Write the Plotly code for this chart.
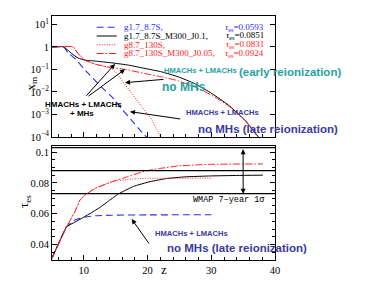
import plotly.graph_objects as go

# ---------------- data ----------------
# top panel: x_m vs z
z_blue_top = [5, 6.8, 7.5, 8.6, 10.7, 12.8, 14.4, 15.9, 17.5, 19.1, 20.0]
xm_blue = [1, 1, 0.56, 0.30, 0.066, 0.0158, 0.0060, 0.00182, 0.00055, 0.000166, 0.000089]

z_black_top = [5, 6.8, 7.5, 8.1, 9.1, 10.2, 11.8, 14.4, 17.0, 19.6, 22.2, 24.8, 27.4, 30.1, 32.7, 35.3, 37.4]
xm_black = [1, 1, 0.71, 0.50, 0.32, 0.257, 0.234, 0.195, 0.155, 0.110, 0.078, 0.047, 0.0234, 0.0085, 0.0026, 0.00055, 0.0001]

z_reddd_top = [5, 8.3, 9.1, 10.2, 11.8, 14.4, 16.5, 19.6, 22.2, 24.8, 27.4, 30.1, 32.7, 35.3, 37.3]
xm_reddd = [1, 1, 0.50, 0.257, 0.170, 0.120, 0.100, 0.065, 0.047, 0.031, 0.0166, 0.0071, 0.0024, 0.00055, 0.0001]

z_redot_top = [5, 8.3, 9.1, 10.2, 11.8, 14.0, 15.0, 15.9, 17.5, 19.1, 20.7, 22.0]
xm_redot = [1, 1, 0.50, 0.257, 0.170, 0.120, 0.076, 0.035, 0.0089, 0.0022, 0.00056, 0.0001]

# bottom panel: tau_es vs z
z_blue_bot = [5, 7.3, 8.6, 10.2, 11.8, 14.4, 20, 30]
tau_blue = [0.031, 0.0515, 0.0559, 0.0578, 0.0586, 0.0590, 0.0592, 0.0593]

z_black_bot = [5, 7.3, 8.6, 9.9, 11.2, 12.5, 14.0, 15.4, 17.8, 20.4, 23.0, 25.9, 30.0, 34.0, 38.1]
tau_black = [0.031, 0.0515, 0.0545, 0.0575, 0.0607, 0.0640, 0.0686, 0.0728, 0.0778, 0.0809, 0.0829, 0.0840, 0.0846, 0.0849, 0.0851]

z_redot_bot = [5, 7.3, 8.6, 9.4, 10.2, 11.8, 14.4, 17.0, 19.6, 30.1]
tau_redot = [0.031, 0.0515, 0.0613, 0.0689, 0.0722, 0.0765, 0.0808, 0.0824, 0.0830, 0.0831]

z_reddd_bot = [5, 7.3, 8.6, 9.4, 10.2, 11.8, 14.4, 17.0, 19.6, 22.2, 24.8, 27.4, 30.1, 38.1]
tau_reddd = [0.031, 0.0515, 0.0613, 0.0689, 0.0722, 0.0765, 0.0808, 0.0843, 0.0878, 0.0896, 0.0911, 0.0917, 0.0922, 0.0924]

tau_wmap = 0.088
tau_sigma = 0.015

series_names = ["g1.7_8.7S,", "g1.7_8.7S_M300_J0.1,", "g8.7_130S,", "g8.7_130S_M300_J0.05,"]
series_tau = ["0.0593", "0.0851", "0.0831", "0.0924"]

top_ticks = [10, 1, 0.1, 0.01, 0.001, 0.0001]
top_ticktext = ["10<sup>1</sup>", "1", "10<sup>\u22121</sup>", "10<sup>\u22122</sup>", "10<sup>\u22123</sup>", "10<sup>\u22124</sup>"]
bot_ticks = [0.04, 0.06, 0.08, 0.1]
bot_ticktext = ["0.04", "0.06", "0.08", "0.1"]
x_ticks = [10, 20, 30, 40]

# ---------------- styles ----------------
BLUE = "#2a2aff"
RED = "#ff1a1a"
BLACK = "#000000"
TEAL = "#1fa3a0"
NAVY = "#3a3aa0"
SERIF = "Liberation Serif"
SANS = "Liberation Sans"

# page offset (body margin) compensation
OFF = 8
L, T = 52 - OFF, 16 - OFF
PW, PH = 223, 244
W, H = 369, 291
R = W - L - PW
B = H - T - PH

def px(xp):   # picture x pixel -> paper x
    return (xp - OFF - L) / PW

def py(yp):   # picture y pixel -> paper y
    return (T + PH - (yp - OFF)) / PH

styles = [
    dict(color=BLUE, width=1.1, dash="7px,4px"),
    dict(color=BLACK, width=1.0, dash="solid"),
    dict(color=RED, width=1.0, dash="1px,1.5px"),
    dict(color=RED, width=1.0, dash="7px,2px,1.5px,2px"),
]

fig = go.Figure()

top_sets = [(z_blue_top, xm_blue), (z_black_top, xm_black), (z_redot_top, xm_redot), (z_reddd_top, xm_reddd)]
bot_sets = [(z_blue_bot, tau_blue), (z_black_bot, tau_black), (z_redot_bot, tau_redot), (z_reddd_bot, tau_reddd)]

for (zz, vv), st in zip(top_sets, styles):
    fig.add_trace(go.Scatter(x=zz, y=vv, mode="lines", line=st, xaxis="x", yaxis="y",
                             showlegend=False, line_shape="spline", line_smoothing=0.4))
for (zz, vv), st in zip(bot_sets, styles):
    fig.add_trace(go.Scatter(x=zz, y=vv, mode="lines", line=st, xaxis="x2", yaxis="y2",
                             showlegend=False, line_shape="spline", line_smoothing=0.3))

# WMAP band lines
for v in [tau_wmap - tau_sigma, tau_wmap, tau_wmap + tau_sigma]:
    fig.add_shape(type="line", xref="x2 domain", yref="y2", x0=0, x1=1, y0=v, y1=v,
                  line=dict(color=BLACK, width=1.3))

axis_common = dict(showline=True, linecolor=BLACK, linewidth=1, showgrid=False, zeroline=False,
                   ticks="inside", tickcolor=BLACK, ticklen=5, automargin=False,
                   tickfont=dict(family=SERIF, size=10.5, color=BLACK))

fig.update_layout(
    template="none",
    width=W, height=H,
    margin=dict(l=L, r=R, t=T, b=B, pad=0, autoexpand=False),
    paper_bgcolor="white", plot_bgcolor="white",
    showlegend=False,
    xaxis=dict(axis_common, domain=[0, 1], range=[5, 40], anchor="y", showticklabels=False,
               tickvals=x_ticks, mirror=True,
               minor=dict(dtick=2, tick0=0, ticks="inside", ticklen=3, tickcolor=BLACK)),
    yaxis=dict(axis_common, domain=[py(137), 1], type="log", range=[-4, 1.37], anchor="x",
               tickvals=top_ticks, ticktext=top_ticktext, mirror="ticks"),
    xaxis2=dict(axis_common, domain=[0, 1], range=[5, 40], anchor="y2",
                tickvals=x_ticks, mirror=True,
                minor=dict(dtick=2, tick0=0, ticks="inside", ticklen=3, tickcolor=BLACK)),
    yaxis2=dict(axis_common, domain=[0, py(146)], range=[0.0298, 0.1041], anchor="x2",
                tickvals=bot_ticks, ticktext=bot_ticktext, mirror="ticks",
                minor=dict(dtick=0.005, tick0=0, ticks="inside", ticklen=3, tickcolor=BLACK)),
)

ann = []
# legend (lines + labels)
leg_py = [27.3, 36, 44.8, 53.5]
leg_col = [BLUE, BLACK, RED, RED]
for i, (nm, tv) in enumerate(zip(series_names, series_tau)):
    fig.add_shape(type="line", xref="paper", yref="paper", x0=px(96.7), x1=px(116.7),
                  y0=py(leg_py[i]), y1=py(leg_py[i]), line=styles[i])
    ann.append(dict(xref="paper", yref="paper", x=px(121.5), y=py(leg_py[i]), xanchor="left", yanchor="middle",
                    text=nm, showarrow=False, font=dict(family=SERIF, size=9, color=leg_col[i])))
    ann.append(dict(xref="paper", yref="paper", x=px(265.5), y=py(leg_py[i]), xanchor="right", yanchor="middle",
                    text="<i>\u03c4</i><sub>es</sub>=" + tv, showarrow=False,
                    font=dict(family=SERIF, size=9, color=leg_col[i])))

def txt(x, y, s, color, size, xref="x", yref="y", anchor="center"):
    return dict(xref=xref, yref=yref, x=x, y=y, text=s, showarrow=False, xanchor=anchor,
                yanchor="middle", font=dict(family=SANS, size=size, color=color))

# top panel texts (y in log10 units)
ann.append(txt(28.31, -1.056, "<b>HMACHs + LMACHs</b>", TEAL, 7.6))
ann.append(txt(px(290), py(72), "<b>(early reionization)</b>", TEAL, 11.5, "paper", "paper"))
ann.append(txt(25.69, -1.765, "<b>no MHs</b>", TEAL, 12))
ann.append(txt(31.76, -2.918, "<b>HMACHs + LMACHs</b>", NAVY, 7.6))
ann.append(txt(38.9, -3.654, "<b>no MHs (late reionization)</b>", NAVY, 11.5))
ann.append(txt(9.91, -2.577, "<b>HMACHs + LMACHs</b>", BLACK, 8))
ann.append(txt(9.66, -2.976, "<b>+ MHs</b>", BLACK, 8))

# bottom panel texts
ann.append(txt(26.93, 0.0472, "<b>HMACHs + LMACHs</b>", NAVY, 7.6, "x2", "y2"))
ann.append(txt(33.99, 0.0379, "<b>no MHs (late reionization)</b>", NAVY, 11.5, "x2", "y2"))
ann.append(dict(xref="x2", yref="y2", x=38.75, y=0.0689, text="WMAP 7\u2212year 1\u03c3", showarrow=False,
                xanchor="right", yanchor="middle", font=dict(family="Liberation Mono", size=8.5, color=BLACK)))

def arrow(xh, yh, xt, yt, xref="x", yref="y", side="end"):
    return dict(xref=xref, yref=yref, axref=xref, ayref=yref, x=xh, y=yh, ax=xt, ay=yt,
                text="", showarrow=True, arrowhead=2, arrowsize=1, arrowwidth=1,
                arrowcolor=BLACK, arrowside=side)

ann.append(arrow(14.89, -0.759, 10.18, -2.235))
ann.append(arrow(16.46, -0.994, 10.49, -2.235))
ann.append(arrow(16.46, -1.588, 22.74, -1.437))
ann.append(arrow(17.24, -2.874, 25.36, -3.211))
ann.append(arrow(17.51, 0.0565, 20.38, 0.0396, "x2", "y2"))
ann.append(arrow(35.0, tau_wmap - tau_sigma, 35.0, tau_wmap + tau_sigma, "x2", "y2", "end+start"))

# axis titles
ann.append(dict(xref="paper", yref="paper", x=px(20), y=py(75), text="x<sub>m</sub>", showarrow=False,
                textangle=-90, font=dict(family=SERIF, size=13, color=BLACK)))
ann.append(dict(xref="paper", yref="paper", x=px(14), y=py(210), text="\u03c4<sub>es</sub>", showarrow=False,
                textangle=-90, font=dict(family=SERIF, size=13, color=BLACK)))
ann.append(dict(xref="paper", yref="paper", x=px(164), y=py(279), text="z", showarrow=False,
                font=dict(family=SERIF, size=13, color=BLACK)))

fig.update_layout(annotations=ann)
fig.write_html("out.html")
